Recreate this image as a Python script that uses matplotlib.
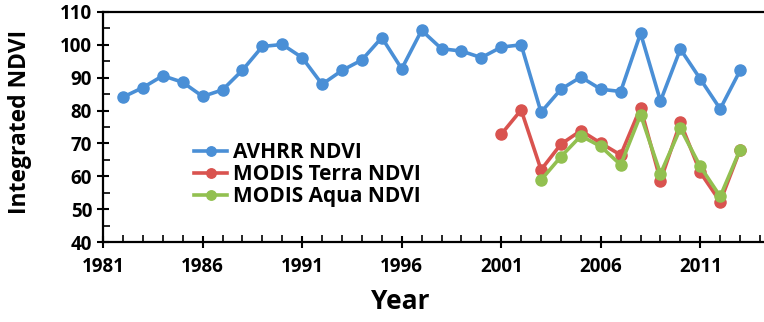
import matplotlib
matplotlib.use("Agg")
import matplotlib.pyplot as plt
from matplotlib.ticker import MultipleLocator

years_avhrr = list(range(1982, 2014))
avhrr = [84.1, 87.0, 90.6, 88.6, 84.3, 86.3, 92.3, 99.5, 100.1, 96.1,
         88.0, 92.2, 95.4, 102.2, 92.7, 104.4, 98.8, 98.1, 96.1, 99.3,
         100.0, 79.5, 86.5, 90.2, 86.5, 85.8, 103.5, 82.9, 98.7, 89.6,
         80.5, 92.2]
years_terra = list(range(2001, 2014))
terra = [72.8, 80.2, 62.0, 69.8, 73.9, 70.1, 66.5, 80.9, 58.7, 76.4, 61.2, 52.3, 68.1]
years_aqua = list(range(2003, 2014))
aqua = [58.9, 66.0, 72.3, 69.1, 63.5, 78.7, 60.8, 74.6, 63.0, 53.9, 68.1]

labels = ["AVHRR NDVI", "MODIS Terra NDVI", "MODIS Aqua NDVI"]
colors = ["#4a8fd6", "#d9534f", "#92c050"]
xticks = [1981, 1986, 1991, 1996, 2001, 2006, 2011]

plt.rcParams['font.family'] = ['Open Sans', 'DejaVu Sans']
plt.rcParams['font.weight'] = 'bold'
fig = plt.figure(figsize=(7.64, 3.22), dpi=100)
ax = fig.add_axes([0.135, 0.248, 0.865, 0.715])

for xs, ys, c, lab in [(years_avhrr, avhrr, colors[0], labels[0]),
                       (years_terra, terra, colors[1], labels[1]),
                       (years_aqua, aqua, colors[2], labels[2])]:
    ax.plot(xs, ys, color=c, lw=2.6, marker='o', ms=8, label=lab)

ax.set_xlim(1981, 2014.2)
ax.set_ylim(40, 110)
ax.set_xticks(xticks)
ax.xaxis.set_minor_locator(MultipleLocator(1))
ax.yaxis.set_major_locator(MultipleLocator(10))
ax.yaxis.set_minor_locator(MultipleLocator(5))
ax.tick_params(which='major', direction='inout', length=9, width=1.5, labelsize=13.5)
ax.tick_params(axis='x', which='major', pad=6)
ax.tick_params(which='minor', direction='in', length=5, width=1.2)
for lab in ax.get_xticklabels() + ax.get_yticklabels():
    lab.set_fontweight('bold')
ax.spines['right'].set_visible(False)
for s in ['left', 'bottom', 'top']:
    ax.spines[s].set_linewidth(1.6)

ax.set_xlabel("Year", fontsize=19, fontweight='bold')
ax.xaxis.set_label_coords(0.449, -0.2)
ax.set_ylabel("Integrated NDVI", fontsize=16.5, fontweight='bold')
ax.yaxis.set_label_coords(-0.108, 0.52)

leg = ax.legend(loc='upper left', bbox_to_anchor=(0.125, 0.47), frameon=False,
                prop={'weight': 'bold', 'size': 15}, handlelength=1.6,
                handletextpad=0.25, labelspacing=0.05, borderaxespad=0,
                markerscale=0.85)

fig.savefig("out.png", dpi=100)
